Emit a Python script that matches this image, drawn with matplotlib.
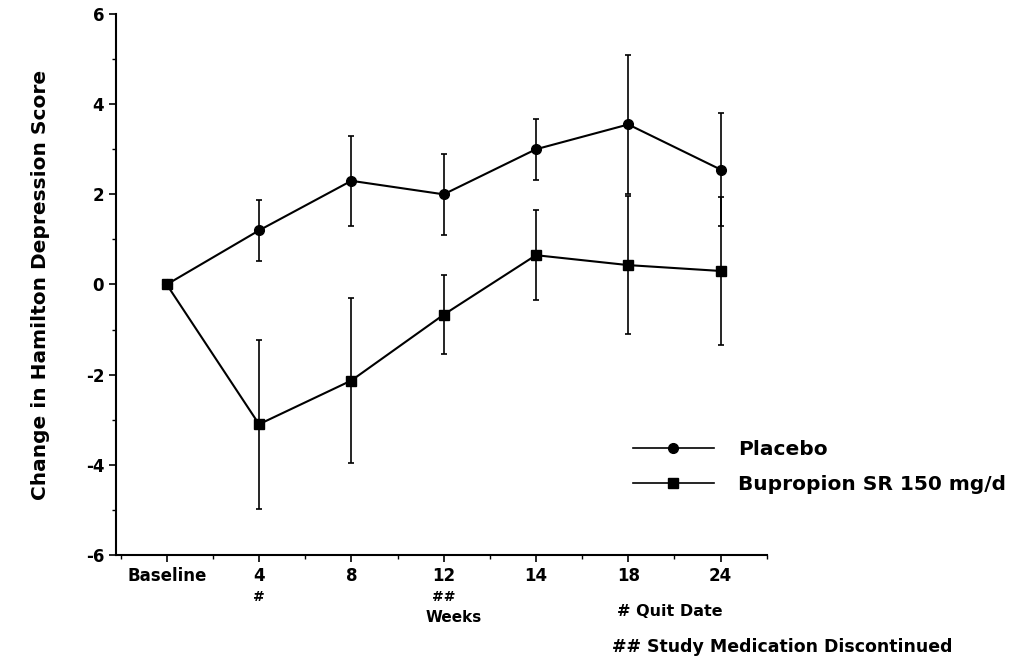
import matplotlib
matplotlib.use('Agg')
import matplotlib.pyplot as plt
from matplotlib.ticker import MultipleLocator
from matplotlib.lines import Line2D

weeks = ['Baseline', '4', '8', '12', '14', '18', '24']
week_marks = ['', '#', '', '##', '', '', '']
placebo = [0, 1.2, 2.3, 2.0, 3.0, 3.55, 2.55]
placebo_err = [0, 0.67, 1.0, 0.9, 0.68, 1.55, 1.25]
bupropion = [0, -3.1, -2.13, -0.67, 0.65, 0.43, 0.3]
bupropion_err = [0, 1.87, 1.83, 0.88, 1.0, 1.53, 1.65]

plt.rcParams['font.family'] = 'DejaVu Sans'
plt.rcParams['font.weight'] = 'bold'
plt.rcParams['axes.unicode_minus'] = False

fig = plt.figure(figsize=(10.2, 6.61), dpi=100)
ax = fig.add_axes([0.1137, 0.1604, 0.638, 0.8184])

x = list(range(len(weeks)))
# no error bars drawn at baseline
ax.errorbar(x[1:], placebo[1:], yerr=placebo_err[1:], fmt='none', ecolor='black',
            elinewidth=1.2, capsize=2.5, capthick=1.2)
ax.errorbar(x[1:], bupropion[1:], yerr=bupropion_err[1:], fmt='none', ecolor='black',
            elinewidth=1.2, capsize=2.5, capthick=1.2)
ax.plot(x, placebo, color='black', lw=1.5, marker='o', ms=7)
ax.plot(x, bupropion, color='black', lw=1.5, marker='s', ms=7)

ax.set_xlim(-0.55, 6.5)
ax.set_ylim(-6, 6)
ax.set_xticks(x)
ax.set_xticklabels(weeks, fontsize=12, fontweight='bold')
ax.xaxis.set_minor_locator(MultipleLocator(0.5))
ax.yaxis.set_major_locator(MultipleLocator(2))
ax.yaxis.set_minor_locator(MultipleLocator(1))
for lab in ax.get_yticklabels():
    lab.set_fontsize(12)
    lab.set_fontweight('bold')
ax.tick_params(which='major', length=5, width=1.2, direction='out')
ax.tick_params(which='minor', length=3, width=1.0, direction='out')

for s in ['top', 'right']:
    ax.spines[s].set_visible(False)
for s in ['left', 'bottom']:
    ax.spines[s].set_linewidth(1.5)

for xi, m in zip(x, week_marks):
    if m:
        ax.annotate(m, xy=(xi, -6), xycoords='data', xytext=(0, -30),
                    textcoords='offset points', ha='center', va='center',
                    fontsize=10, fontweight='bold')

ax.set_ylabel('Change in Hamilton Depression Score', fontsize=14.5, fontweight='bold',
              labelpad=26)

fig.text(454 / 1020, 1 - 617 / 661, 'Weeks', ha='center', va='center',
         fontsize=11, fontweight='bold')
fig.text(617 / 1020, 1 - 612 / 661, '# Quit Date', ha='left', va='center',
         fontsize=11.5, fontweight='bold')
fig.text(612 / 1020, 1 - 647 / 661, '## Study Medication Discontinued', ha='left',
         va='center', fontsize=12.5, fontweight='bold')

handles = [Line2D([], [], color='black', lw=1.2, marker='o', ms=7),
           Line2D([], [], color='black', lw=1.2, marker='s', ms=7)]
fig.legend(handles, ['Placebo', 'Bupropion SR 150 mg/d'], loc='center left',
           bbox_to_anchor=(0.603, 1 - 467 / 661), frameon=False,
           prop={'weight': 'bold', 'size': 14.5}, handlelength=4.0, handletextpad=1.2,
           labelspacing=0.75)

fig.savefig('out.png', dpi=100)
